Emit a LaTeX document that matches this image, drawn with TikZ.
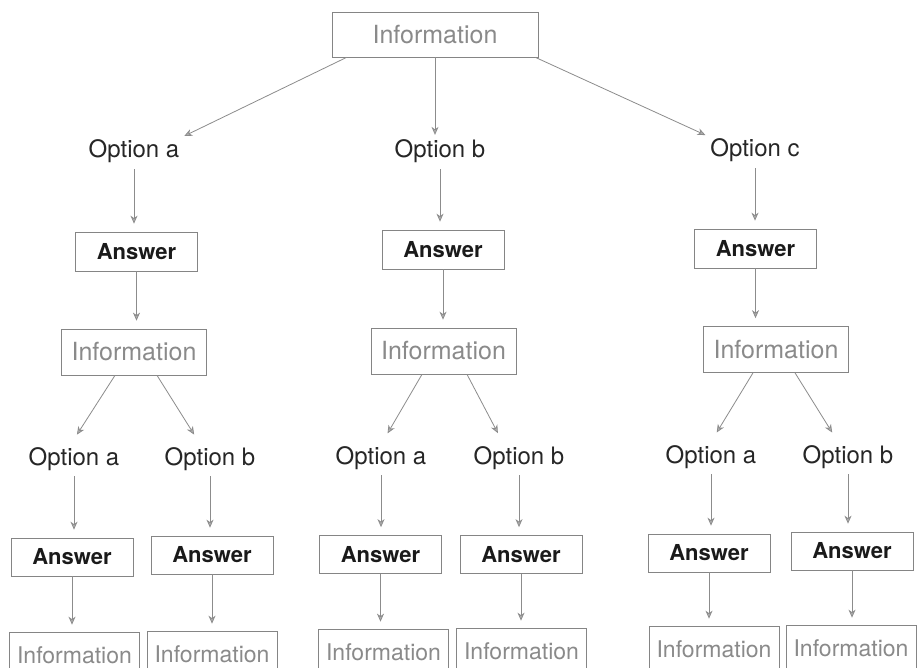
\documentclass[tikz,border=0pt]{standalone}
\usepackage{fontspec}
\setmainfont{TeX Gyre Heros}
\usetikzlibrary{arrows.meta,calc}
\definecolor{edgeclr}{HTML}{8C8C8C}
\definecolor{boxline}{HTML}{858585}
\definecolor{infotext}{HTML}{8A8A8A}
\definecolor{opttext}{HTML}{262626}
\definecolor{anstext}{HTML}{1A1A1A}
\tikzset{
  infobox/.style={draw=boxline, line width=0.7pt, text=infotext, inner sep=0pt,
    font=\fontsize{25}{30}\selectfont, minimum width=145pt, minimum height=46pt},
  infosmall/.style={infobox, font=\fontsize{23}{28}\selectfont, minimum width=130pt},
  ansbox/.style={draw=boxline, line width=0.7pt, text=anstext, inner sep=0pt,
    font=\bfseries\fontsize{22}{26}\selectfont, minimum width=122pt, minimum height=38pt},
  opttag/.style={text=opttext, anchor=base, inner sep=3pt,
    font=\fontsize{24}{28}\selectfont},
  arr/.style={draw=edgeclr, line width=0.8pt,
    -{Stealth[length=8pt,width=7pt,inset=2.5pt,fill=edgeclr!70]}},
  down/.style={arr, shorten <=3pt, shorten >=8pt}
}
\begin{document}
\begin{tikzpicture}[x=1pt,y=-1pt]
\useasboundingbox (0,0) rectangle (917,668);
\fill[white] (0,0) rectangle (917,668);
\clip (0,0) rectangle (917,668);

% root
\node[infobox, minimum width=206pt, minimum height=45pt] (top) at (435,34.5) {Information};

% first level options
\node[opttag] (oa) at (134,158) {Option a};
\node[opttag] (ob) at (440,158) {Option b};
\node[opttag] (oc) at (755,157) {Option c};

% first level answers
\node[ansbox, minimum height=39pt] (aa) at (136.5,251.5) {Answer};
\node[ansbox, minimum height=39pt] (ab) at (443,249.5) {Answer};
\node[ansbox, minimum height=39pt] (ac) at (755.5,248.5) {Answer};

% second level information
\node[infobox] (ia) at (134,352) {Information};
\node[infobox] (ib) at (443.5,351) {Information};
\node[infobox] (ic) at (776,349.5) {Information};

% second level options
\node[opttag] (oaa) at (74,465) {Option a};
\node[opttag] (oab) at (210,465) {Option b};
\node[opttag] (oba) at (381,464) {Option a};
\node[opttag] (obb) at (519,464) {Option b};
\node[opttag] (oca) at (711,463) {Option a};
\node[opttag] (ocb) at (848,463) {Option b};

% second level answers
\node[ansbox] (aaa) at (72,557) {Answer};
\node[ansbox] (aab) at (212,555) {Answer};
\node[ansbox] (aba) at (380.5,554.5) {Answer};
\node[ansbox] (abb) at (521,554.5) {Answer};
\node[ansbox] (aca) at (709,553) {Answer};
\node[ansbox] (acb) at (852,551) {Answer};

% leaf information
\node[infosmall] (iaa) at (74.5,655) {Information};
\node[infosmall] (iab) at (212,654) {Information};
\node[infosmall] (iba) at (383.5,652) {Information};
\node[infosmall] (ibb) at (521.5,651) {Information};
\node[infosmall] (ica) at (714,649) {Information};
\node[infosmall] (icb) at (851,648) {Information};

% root to options
\draw[arr, shorten >=2pt] ($(top.south west)+(15,0)$) -- (oa.north east);
\draw[arr, shorten >=2pt] (top.south) -- (top.south |- ob.north);
\draw[arr, shorten >=2pt] ($(top.south east)+(-3,0)$) -- (oc.north west);

% options to answers to information
\foreach \o/\a/\i in {oa/aa/ia, ob/ab/ib, oc/ac/ic}{
  \draw[down] (\o.south) -- (\o.south |- \a.north);
  \draw[arr, shorten >=8pt] (\a.south) -- (\a.south |- \i.north);
}

% information to second level options
\draw[arr, shorten >=11pt] ($(ia.south)+(-19,0)$) -- ($(oaa.north)+(-3,0)$);
\draw[arr, shorten >=11pt] ($(ia.south)+(23,0)$) -- ($(oab.north)+(-10,0)$);
\draw[arr, shorten >=11pt] ($(ib.south)+(-21.5,0)$) -- ($(oba.north)+(1,0)$);
\draw[arr, shorten >=11pt] ($(ib.south)+(23.5,0)$) -- ($(obb.north)+(-16,0)$);
\draw[arr, shorten >=11pt] ($(ic.south)+(-23,0)$) -- ($(oca.north)+(0,0)$);
\draw[arr, shorten >=11pt] ($(ic.south)+(19,0)$) -- ($(ocb.north)+(-10,0)$);

% second level options to answers to leaf information
\foreach \o/\a/\i in {oaa/aaa/iaa, oab/aab/iab, oba/aba/iba, obb/abb/ibb, oca/aca/ica, ocb/acb/icb}{
  \draw[down] (\o.south) -- (\o.south |- \a.north);
  \draw[arr, shorten >=7pt] (\a.south) -- (\a.south |- \i.north);
}
\end{tikzpicture}
\end{document}
